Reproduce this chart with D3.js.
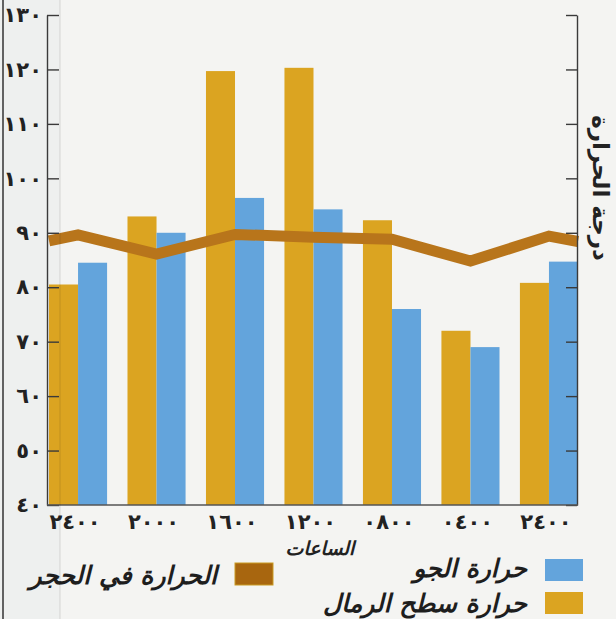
<!DOCTYPE html>
<html><head><meta charset="utf-8">
<script src="https://cdn.jsdelivr.net/npm/d3@7"></script>
<style>
html,body{margin:0;padding:0;background:#f3f3f1;}
svg{display:block;}
text{font-family:"DejaVu Sans",sans-serif;}
</style></head>
<body>
<script>
// ---- data ----
const categories = ["٢٤٠٠","٢٠٠٠","١٦٠٠","١٢٠٠","٠٨٠٠","٠٤٠٠","٢٤٠٠"];
const sandTemp  = [80.5, 93, 119.7, 120.3, 92.3, 72, 80.8];   // حرارة سطح الرمال
const airTemp   = [84.5, 90, 96.4, 94.3, 76, 69, 84.7];       // حرارة الجو
const stoneTemp = [89.6, 86.1, 89.7, 89.2, 88.8, 84.8, 89.4]; // الحرارة في الحجر
const stoneStart = 88.5, stoneEnd = 88.4;
const yTicks = [40,50,60,70,80,90,100,110,120,130];
const xTitle = "الساعات";
const yTitle = "درجة الحرارة";
const legendAir = "حرارة الجو";
const legendSand = "حرارة سطح الرمال";
const legendStone = "الحرارة في الحجر";

const W = 616, H = 619;
const cSand = "#dba421", cAir = "#63a4dc", cStone = "#b8751b";
const toAr = v => String(v).replace(/\d/g, d => "٠١٢٣٤٥٦٧٨٩"[d]);

const svg = d3.select("body").append("svg").attr("width", W).attr("height", H);
svg.append("rect").attr("width", W).attr("height", H).attr("fill", "#f4f4f2");
svg.append("rect").attr("x", 0).attr("y", 0).attr("width", 60).attr("height", H).attr("fill", "#eef0ef");

const y = d3.scaleLinear().domain([40,130]).range([505,15]);
const x = d3.scaleBand().domain(d3.range(categories.length)).range([49,578]).paddingInner(0.26).paddingOuter(0);
const half = x.bandwidth()/2;

// bars
const g = svg.append("g");
g.selectAll("rect.sand").data(sandTemp).join("rect")
  .attr("x", (d,i) => x(i)).attr("width", half)
  .attr("y", d => y(d)).attr("height", d => y(40) - y(d)).attr("fill", cSand);
g.selectAll("rect.air").data(airTemp).join("rect")
  .attr("x", (d,i) => x(i) + half).attr("width", half)
  .attr("y", d => y(d)).attr("height", d => y(40) - y(d)).attr("fill", cAir);

// stone line
const pts = [[x.range()[0], stoneStart]]
  .concat(stoneTemp.map((v,i) => [x(i) + half, v]))
  .concat([[x.range()[1], stoneEnd]]);
svg.append("path").datum(pts)
  .attr("d", d3.line().x(d => d[0]).y(d => y(d[1])))
  .attr("fill", "none").attr("stroke", cStone).attr("stroke-width", 11).attr("stroke-linejoin", "miter");

// left axis
const axL = svg.append("g").attr("transform", "translate(47,0)")
  .call(d3.axisLeft(y).tickValues(yTicks).tickSize(-12).tickSizeOuter(0).tickPadding(5).tickFormat(toAr));
axL.selectAll("path,line").attr("stroke", "#3a3a3a").attr("stroke-width", 1.4);
axL.selectAll("text").attr("font-size", 21).attr("font-weight", "bold").attr("fill", "#222")
  .attr("letter-spacing", 1);

// right axis
const axR = svg.append("g").attr("transform", "translate(577,0)")
  .call(d3.axisLeft(y).tickValues(yTicks).tickSize(11).tickSizeOuter(0).tickFormat(""));
axR.selectAll("path,line").attr("stroke", "#3a3a3a").attr("stroke-width", 1.4);

// bottom line
svg.append("line").attr("x1", 47).attr("x2", 578).attr("y1", y(40)).attr("y2", y(40))
  .attr("stroke", "#555").attr("stroke-width", 1.4);

// x tick labels
svg.append("g").selectAll("text").data(categories).join("text")
  .attr("x", (d,i) => x(i) + half - 3).attr("y", 529)
  .attr("text-anchor", "middle").attr("font-size", 21).attr("font-weight", "bold").attr("fill", "#222")
  .attr("letter-spacing", 1.5)
  .text(d => d);

svg.append("text").attr("x", 320).attr("y", 555).attr("text-anchor", "middle")
  .attr("font-size", 19).attr("font-weight", "bold").attr("font-style", "italic").attr("fill", "#222").text(xTitle);

svg.append("text").attr("transform", "translate(593,188) rotate(90)").attr("text-anchor", "middle")
  .attr("font-size", 23).attr("font-weight", "bold").attr("fill", "#222").text(yTitle);

// legend
const leg = [
  {c: cAir, t: legendAir, sx: 545, sy: 559, tx: 527, ty: 577},
  {c: cSand, t: legendSand, sx: 545, sy: 592, tx: 527, ty: 612},
  {c: "#a8660f", t: legendStone, sx: 235, sy: 563, tx: 217, ty: 584}
];
leg.forEach(l => {
  svg.append("rect").attr("x", l.sx).attr("y", l.sy).attr("width", 38).attr("height", 22).attr("fill", l.c)
    .attr("stroke", l.c === "#a8660f" ? "#c99a22" : "none").attr("stroke-width", 1);
  svg.append("text").attr("x", l.tx).attr("y", l.ty).attr("text-anchor", "end")
    .attr("font-size", 25).attr("font-weight", "bold").attr("font-style", "italic").attr("fill", "#1e1e1e").text(l.t);
});

// page edge & fold
svg.append("line").attr("x1", 3).attr("x2", 3).attr("y1", 0).attr("y2", H).attr("stroke", "#333").attr("stroke-width", 1.5);
svg.append("line").attr("x1", 60).attr("x2", 60).attr("y1", 0).attr("y2", H).attr("stroke", "#000").attr("stroke-opacity", 0.12).attr("stroke-width", 1);
</script>
</body></html>
